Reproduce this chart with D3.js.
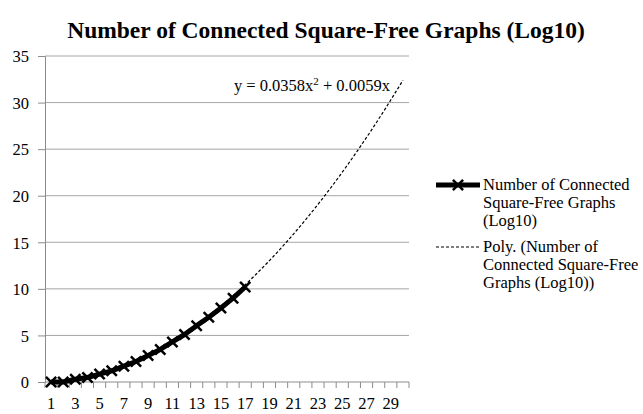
<!DOCTYPE html>
<html lang="en">
<head>
<meta charset="UTF-8">
<title>Number of Connected Square-Free Graphs (Log10)</title>
<script src="https://cdnjs.cloudflare.com/ajax/libs/d3/7.8.5/d3.min.js"></script>
<style>
    body, html { margin: 0; padding: 0; background: #fff; overflow: hidden; }
    text { font-family: "Liberation Serif", "DejaVu Serif", serif; fill: #000; }
</style>
</head>
<body>
<div id="chart"></div>
<script>
    // categories on the x axis (1..30), only odd ones labelled
    const categories = d3.range(1, 31);
    const nValues = d3.range(1, 18);
    const logCounts = [0, 0, 0.30, 0.48, 0.85, 1.2, 1.7, 2.2, 2.85, 3.5, 4.3, 5.1, 6.05, 6.95, 7.95, 9.0, 10.2];
    const yTicks = [0, 5, 10, 15, 20, 25, 30, 35];
    const trendA = 0.0358, trendB = 0.0059;

    const width = 643, height = 414;
    const plotLeft = 45, plotRight = 409, plotTop = 56, plotBottom = 382;
    const fontSize = "16.5px";

    const svg = d3.select("#chart").append("svg")
        .attr("width", width)
        .attr("height", height);

    const x = d3.scaleBand().domain(categories).range([plotLeft, plotRight]);
    const xc = d => x(d) + x.bandwidth() / 2;
    const y = d3.scaleLinear().domain([0, 35]).range([plotBottom, plotTop]);

    // title
    svg.append("text")
        .attr("x", 326).attr("y", 38)
        .attr("text-anchor", "middle")
        .style("font-size", "23.5px")
        .style("font-weight", "bold")
        .text("Number of Connected Square-Free Graphs (Log10)");

    // gridlines
    svg.append("g").selectAll("line")
        .data(yTicks.filter(t => t > 0))
        .enter().append("line")
        .attr("x1", plotLeft).attr("x2", plotRight)
        .attr("y1", d => y(d)).attr("y2", d => y(d))
        .attr("stroke", "#a6a6a6").attr("stroke-width", 1);

    // y axis
    const yAxis = d3.axisLeft(y).tickValues(yTicks).tickSize(7).tickPadding(9);
    const gy = svg.append("g").attr("transform", `translate(${plotLeft},0)`).call(yAxis)
        .attr("font-family", null).attr("font-size", null);
    gy.select(".domain").attr("stroke", "#8c8c8c");
    gy.selectAll(".tick line").attr("stroke", "#8c8c8c");
    gy.selectAll(".tick text").style("font-size", fontSize).attr("dy", "0.35em");

    // x axis: ticks at category boundaries
    const gx = svg.append("g");
    gx.append("line")
        .attr("x1", plotLeft).attr("x2", plotRight)
        .attr("y1", plotBottom).attr("y2", plotBottom)
        .attr("stroke", "#8c8c8c");
    gx.selectAll("line.tk")
        .data(categories.concat([31]))
        .enter().append("line")
        .attr("class", "tk")
        .attr("x1", d => d <= 30 ? x(d) : plotRight)
        .attr("x2", d => d <= 30 ? x(d) : plotRight)
        .attr("y1", plotBottom).attr("y2", plotBottom + 6)
        .attr("stroke", "#8c8c8c");
    gx.selectAll("text")
        .data(categories.filter(d => d % 2 === 1))
        .enter().append("text")
        .attr("x", d => xc(d))
        .attr("y", 409)
        .attr("text-anchor", "middle")
        .style("font-size", fontSize)
        .text(d => d);

    // polynomial trendline
    const trendData = d3.range(1, 30.01, 0.25);
    const line = d3.line().x(d => xc(1) + (d - 1) * x.step()).y(d => y(trendA * d * d + trendB * d));
    svg.append("path")
        .attr("d", line(trendData))
        .attr("fill", "none")
        .attr("stroke", "#000")
        .attr("stroke-width", 1.2)
        .attr("stroke-dasharray", "3,2");

    // data series
    const series = d3.line().x((d, i) => xc(nValues[i])).y(d => y(d));
    svg.append("path")
        .attr("d", series(logCounts))
        .attr("fill", "none")
        .attr("stroke", "#000")
        .attr("stroke-width", 5)
        .attr("stroke-linejoin", "round");

    const cross = d3.symbol().type(d3.symbolX).size(70);
    svg.append("g").selectAll("path")
        .data(logCounts)
        .enter().append("path")
        .attr("d", cross)
        .attr("transform", (d, i) => `translate(${xc(nValues[i])},${y(d)})`)
        .attr("stroke", "#000")
        .attr("stroke-width", 2.5)
        .attr("fill", "none");

    // equation
    const eq = svg.append("text")
        .attr("x", 390).attr("y", 91)
        .attr("text-anchor", "end")
        .style("font-size", fontSize);
    eq.append("tspan").text("y = 0.0358x");
    eq.append("tspan").attr("dy", -6).style("font-size", "11px").text("2");
    eq.append("tspan").attr("dy", 6).text(" + 0.0059x");

    // legend
    const lg = svg.append("g");
    lg.append("line")
        .attr("x1", 436).attr("x2", 480).attr("y1", 185).attr("y2", 185)
        .attr("stroke", "#000").attr("stroke-width", 5);
    lg.append("path")
        .attr("d", cross)
        .attr("transform", "translate(458,185)")
        .attr("stroke", "#000").attr("stroke-width", 2.5).attr("fill", "none");
    lg.append("line")
        .attr("x1", 436).attr("x2", 480).attr("y1", 247).attr("y2", 247)
        .attr("stroke", "#000").attr("stroke-width", 1.2)
        .attr("stroke-dasharray", "3,2");

    const legendLines = [
        ["Number of Connected", 190], ["Square-Free Graphs", 208], ["(Log10)", 226],
        ["Poly. (Number of", 252], ["Connected Square-Free", 270], ["Graphs (Log10))", 288]
    ];
    lg.selectAll("text")
        .data(legendLines)
        .enter().append("text")
        .attr("x", 483).attr("y", d => d[1])
        .style("font-size", fontSize)
        .text(d => d[0]);
</script>
</body>
</html>
